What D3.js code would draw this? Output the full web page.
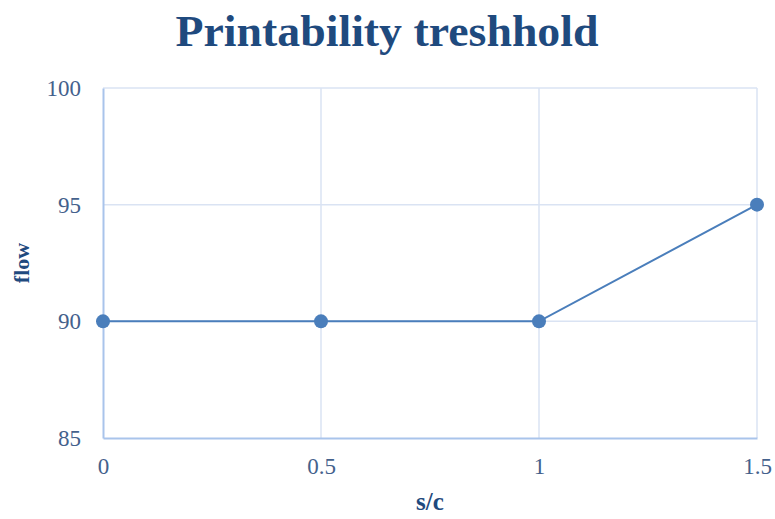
<!doctype html><html><head><style>body{margin:0;background:#fff}</style></head><body><script src='https://d3js.org/d3.v7.min.js'></script>
<script>
  const xValues = [0, 0.5, 1, 1.5];
  const flowValues = [90, 90, 90, 95];
  const xTicks = [0, 0.5, 1, 1.5];
  const yTicks = [85, 90, 95, 100];

  const width = 775, height = 519;
  const margin = {top: 88, right: 18, bottom: 81, left: 103};
  const font = "'Liberation Serif', 'DejaVu Serif', serif";

  var svg = d3.select("body").append("svg")
    .attr("width", width)
    .attr("height", height);

  var x = d3.scaleLinear().domain([0, 1.5]).range([margin.left, width - margin.right]);
  var y = d3.scaleLinear().domain([85, 100]).range([height - margin.bottom, margin.top]);

  // grid
  svg.append("g").selectAll("line.h")
    .data(yTicks.slice(1))
    .enter().append("line")
    .attr("x1", x(0)).attr("x2", x(1.5))
    .attr("y1", d => y(d)).attr("y2", d => y(d))
    .attr("stroke", "#dae3f3").attr("stroke-width", 1.5);

  svg.append("g").selectAll("line.v")
    .data(xTicks.slice(1))
    .enter().append("line")
    .attr("x1", d => x(d)).attr("x2", d => x(d))
    .attr("y1", y(85)).attr("y2", y(100))
    .attr("stroke", "#dae3f3").attr("stroke-width", 1.5);

  // axes
  var xAxis = svg.append("g")
    .attr("transform", "translate(0," + y(85) + ")")
    .call(d3.axisBottom(x).tickValues(xTicks).tickSize(0).tickPadding(20).tickFormat(d3.format("")));
  var yAxis = svg.append("g")
    .attr("transform", "translate(" + x(0) + ",0)")
    .call(d3.axisLeft(y).tickValues(yTicks).tickSize(0).tickPadding(22));

  [xAxis, yAxis].forEach(function(a) {
    a.select(".domain").attr("stroke", "#a9c4eb").attr("stroke-width", 2);
    a.selectAll("text").attr("font-family", font).attr("font-size", "23px").attr("fill", "#44618c");
  });

  // line
  var pts = xValues.map((d, i) => [d, flowValues[i]]);
  svg.append("path")
    .datum(pts)
    .attr("fill", "none")
    .attr("stroke", "#4a7ebb")
    .attr("stroke-width", 2)
    .attr("d", d3.line().x(d => x(d[0])).y(d => y(d[1])));

  svg.selectAll("circle")
    .data(pts)
    .enter().append("circle")
    .attr("cx", d => x(d[0]))
    .attr("cy", d => y(d[1]))
    .attr("r", 7)
    .attr("fill", "#4a7ebb");

  // titles
  svg.append("text")
    .attr("x", 387).attr("y", 46)
    .attr("text-anchor", "middle")
    .attr("font-family", font).attr("font-weight", "bold").attr("font-size", "44px")
    .attr("textLength", 423).attr("lengthAdjust", "spacingAndGlyphs")
    .attr("fill", "#1f4a7e")
    .text("Printability treshhold");

  svg.append("text")
    .attr("x", 430).attr("y", 510)
    .attr("text-anchor", "middle")
    .attr("font-family", font).attr("font-weight", "bold").attr("font-size", "25px")
    .attr("fill", "#1f4a7e")
    .text("s/c");

  svg.append("text")
    .attr("transform", "translate(29,263) rotate(-90)")
    .attr("text-anchor", "middle")
    .attr("font-family", font).attr("font-weight", "bold").attr("font-size", "22px")
    .attr("fill", "#1f4a7e")
    .text("flow");
</script></body></html>
